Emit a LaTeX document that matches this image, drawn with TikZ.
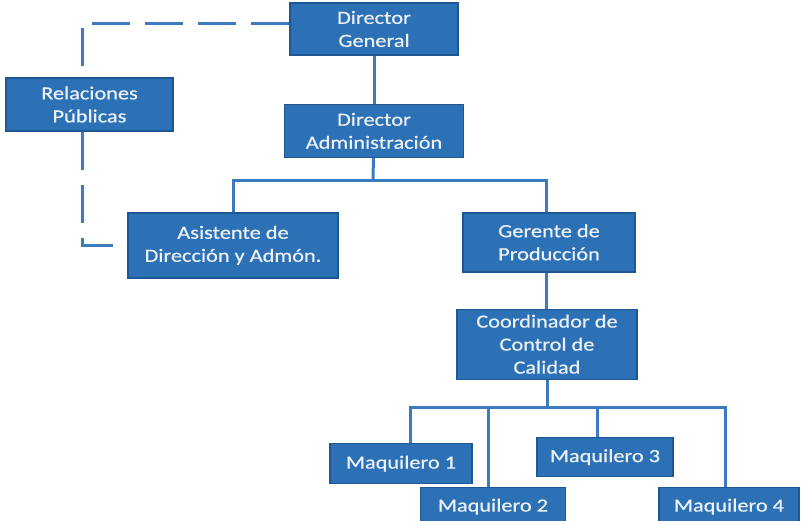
\documentclass[tikz,border=0pt]{standalone}
\usepackage{fontspec}
\setmainfont{Carlito}[FakeStretch=1.2, FakeBold=0.6]
\usetikzlibrary{positioning}

\definecolor{boxfill}{RGB}{44,113,182}
\definecolor{boxedge}{RGB}{30,88,148}
\definecolor{linkblue}{RGB}{60,124,190}
\definecolor{boxtext}{RGB}{236,241,248}

\begin{document}
\begin{tikzpicture}[
    x=1pt, y=-1pt,
    font=\fontsize{18.6}{23}\selectfont,
    box/.style={draw=boxedge, line width=1.4pt, fill=boxfill, text=boxtext,
                align=center, inner sep=2pt},
    link/.style={draw=linkblue, line width=3pt},
    dashlink/.style={link, dash pattern=on 38pt off 15pt},
]
\useasboundingbox (0,0) rectangle (802,520);

% ---- Top level ----------------------------------------------------
\node[box, minimum width=168pt, minimum height=52pt] (dg) at (374,29) {Director\\General};
\node[box, minimum width=179pt, minimum height=53pt, below=48pt of dg] (da) {Director\\Administración};
\node[box, minimum width=167pt, minimum height=53pt] (rp) at (89.5,104.5) {Relaciones\\Públicas};

% ---- Second level -------------------------------------------------
\node[box, minimum width=210pt, minimum height=65pt, below=54pt of da, xshift=-141pt] (asis) {Asistente de\\Dirección y Admón.};
\node[box, minimum width=172pt, minimum height=59pt, below=54pt of da, xshift=175pt] (gp) {Gerente de\\Producción};
\node[box, minimum width=180pt, minimum height=70pt, below=36pt of gp, xshift=-2pt] (cc) {Coordinador de\\Control de\\Calidad};

% ---- Maquileros ---------------------------------------------------
\node[box, minimum width=142pt, minimum height=40pt, below=63pt of cc, xshift=-146pt] (m1) {Maquilero 1};
\node[box, minimum width=145pt, minimum height=38pt, below=107pt of cc, xshift=-54pt] (m2) {Maquilero 2};
\node[box, minimum width=136pt, minimum height=39pt, below=57pt of cc, xshift=58pt] (m3) {Maquilero 3};
\node[box, minimum width=140pt, minimum height=38pt, below=107pt of cc, xshift=182pt] (m4) {Maquilero 4};

% ---- Bus points ---------------------------------------------------
\coordinate (busa) at (373,180);
\coordinate (busc) at (547,407);

% ---- Edges --------------------------------------------------------
\draw[link] (dg) -- (da);
\draw[link] (da) -- (busa);
\draw[link] (asis.north) |- (busa) -| ([xshift=-3pt]gp.north);
\draw[link] ([xshift=-3pt]gp.south) -- ([xshift=-3pt]gp.south |- cc.north);
\draw[link] (cc) -- (busc);
\draw[link] ([xshift=9pt]m1.north) |- (busc) -| ([xshift=-4pt]m4.north);
\draw[link] ([xshift=-5pt]m2.north) -- ([xshift=-5pt]m2.north |- busc);
\draw[link] ([xshift=-8pt]m3.north) -- ([xshift=-8pt]m3.north |- busc);

% ---- Staff line ---------------------------------------------------
\draw[dashlink] ([yshift=6pt]dg.west) -| ([xshift=-7pt]rp.north);
\draw[dashlink] ([xshift=-7pt]rp.south) |- (asis.west);

\end{tikzpicture}
\end{document}
